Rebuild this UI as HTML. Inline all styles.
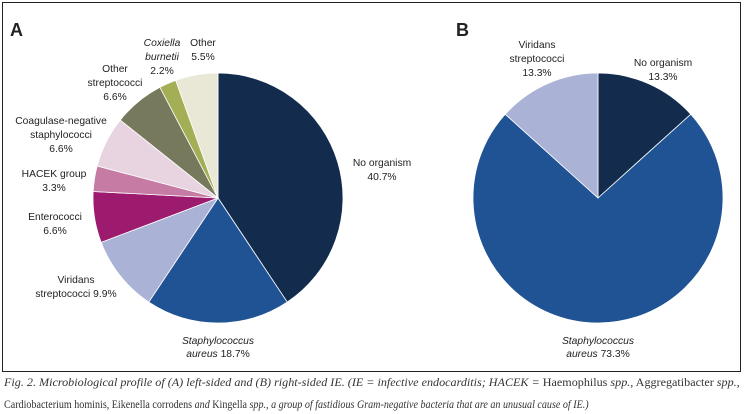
<!DOCTYPE html>
<html><head><meta charset="utf-8">
<style>
body{margin:0;background:#fff;}
#wrap{position:relative;width:745px;height:414px;overflow:hidden;background:#fff;}
svg text{font-family:"Liberation Sans",sans-serif;font-size:10.3px;fill:#222;}
.cap{position:absolute;left:4px;font-family:"Liberation Serif",serif;font-size:12px;color:#333;white-space:nowrap;transform-origin:0 0;}
</style></head><body>
<div id="wrap">
<svg id="svg" width="745" height="414">
<rect x="2.5" y="2.5" width="738" height="369" fill="none" stroke="#222" stroke-width="1"/>
<text x="10" y="36" style="font-size:18px;font-weight:bold">A</text>
<text x="456" y="36" style="font-size:18px;font-weight:bold">B</text>
<g id="pieA"></g>
<g id="pieB"></g>
<g>
<text text-anchor="middle" x="382" y="166">No organism</text><text text-anchor="middle" x="382" y="180">40.7%</text>
<text text-anchor="middle" x="218" y="344" font-style="italic">Staphylococcus</text><text text-anchor="middle" x="218" y="357"><tspan font-style="italic">aureus</tspan> 18.7%</text>
<text text-anchor="middle" x="76" y="283">Viridans</text><text text-anchor="middle" x="76" y="297">streptococci 9.9%</text>
<text text-anchor="middle" x="55" y="220">Enterococci</text><text text-anchor="middle" x="55" y="234">6.6%</text>
<text text-anchor="middle" x="54" y="177">HACEK group</text><text text-anchor="middle" x="54" y="191">3.3%</text>
<text text-anchor="middle" x="61" y="124">Coagulase-negative</text><text text-anchor="middle" x="61" y="138">staphylococci</text><text text-anchor="middle" x="61" y="152">6.6%</text>
<text text-anchor="middle" x="115" y="72">Other</text><text text-anchor="middle" x="115" y="86">streptococci</text><text text-anchor="middle" x="115" y="100">6.6%</text>
<text text-anchor="middle" x="162" y="46" font-style="italic">Coxiella</text><text text-anchor="middle" x="162" y="60" font-style="italic">burnetii</text><text text-anchor="middle" x="162" y="74">2.2%</text>
<text text-anchor="middle" x="203" y="46">Other</text><text text-anchor="middle" x="203" y="60">5.5%</text>
</g>
<g>
<text text-anchor="middle" x="537" y="48">Viridans</text><text text-anchor="middle" x="537" y="62">streptococci</text><text text-anchor="middle" x="537" y="76">13.3%</text>
<text text-anchor="middle" x="663" y="66">No organism</text><text text-anchor="middle" x="663" y="80">13.3%</text>
<text text-anchor="middle" x="598" y="344" font-style="italic">Staphylococcus</text><text text-anchor="middle" x="598" y="357"><tspan font-style="italic">aureus</tspan> 73.3%</text>
</g>
</svg>
<div class="cap" style="top:375px;transform:scaleX(1.01)"><i>Fig. 2. Microbiological profile of (A) left-sided and (B) right-sided IE. (IE = infective endocarditis; HACEK =</i> Haemophilus <i>spp.,</i> Aggregatibacter <i>spp.,</i></div>
<div class="cap" style="top:397px;transform:scaleX(0.84)">Cardiobacterium hominis, Eikenella corrodens <i>and</i> Kingella <i>spp., a group of fastidious Gram-negative bacteria that are an unusual cause of IE.)</i></div>
</div>
<script>
const categoriesA = ["No organism","Staphylococcus aureus","Viridans streptococci","Enterococci","HACEK group","Coagulase-negative staphylococci","Other streptococci","Coxiella burnetii","Other"];
const valuesA = [40.7,18.7,9.9,6.6,3.3,6.6,6.6,2.2,5.5];
const colorsA = ["#132c4e","#1f5394","#aab3d6","#9c1b6e","#c57ba4","#e8d3e1","#77795d","#a3ae55","#e9e8d6"];
const categoriesB = ["No organism","Staphylococcus aureus","Viridans streptococci"];
const valuesB = [13.3,73.3,13.3];
const colorsB = ["#132c4e","#1f5394","#aab3d6"];

function drawPie(gid, cats, vals, cols, cx, cy, r){
  const g = document.getElementById(gid);
  const total = vals.reduce((a,b)=>a+b,0);
  let a0 = -Math.PI/2;
  vals.forEach((v,i)=>{
    const a1 = a0 + v/total*2*Math.PI;
    const x0=cx+r*Math.cos(a0), y0=cy+r*Math.sin(a0), x1=cx+r*Math.cos(a1), y1=cy+r*Math.sin(a1);
    const large = (a1-a0)>Math.PI?1:0;
    const p = document.createElementNS("http://www.w3.org/2000/svg","path");
    p.setAttribute("d",`M${cx},${cy} L${x0},${y0} A${r},${r} 0 ${large} 1 ${x1},${y1} Z`);
    p.setAttribute("fill",cols[i]);
    p.setAttribute("stroke","#fff");
    p.setAttribute("stroke-width","0.8");
    
    
    g.appendChild(p);
    a0 = a1;
  });
}
drawPie("pieA", categoriesA, valuesA, colorsA, 218, 198, 125);
drawPie("pieB", categoriesB, valuesB, colorsB, 598, 198, 125);
</script>
</body></html>
